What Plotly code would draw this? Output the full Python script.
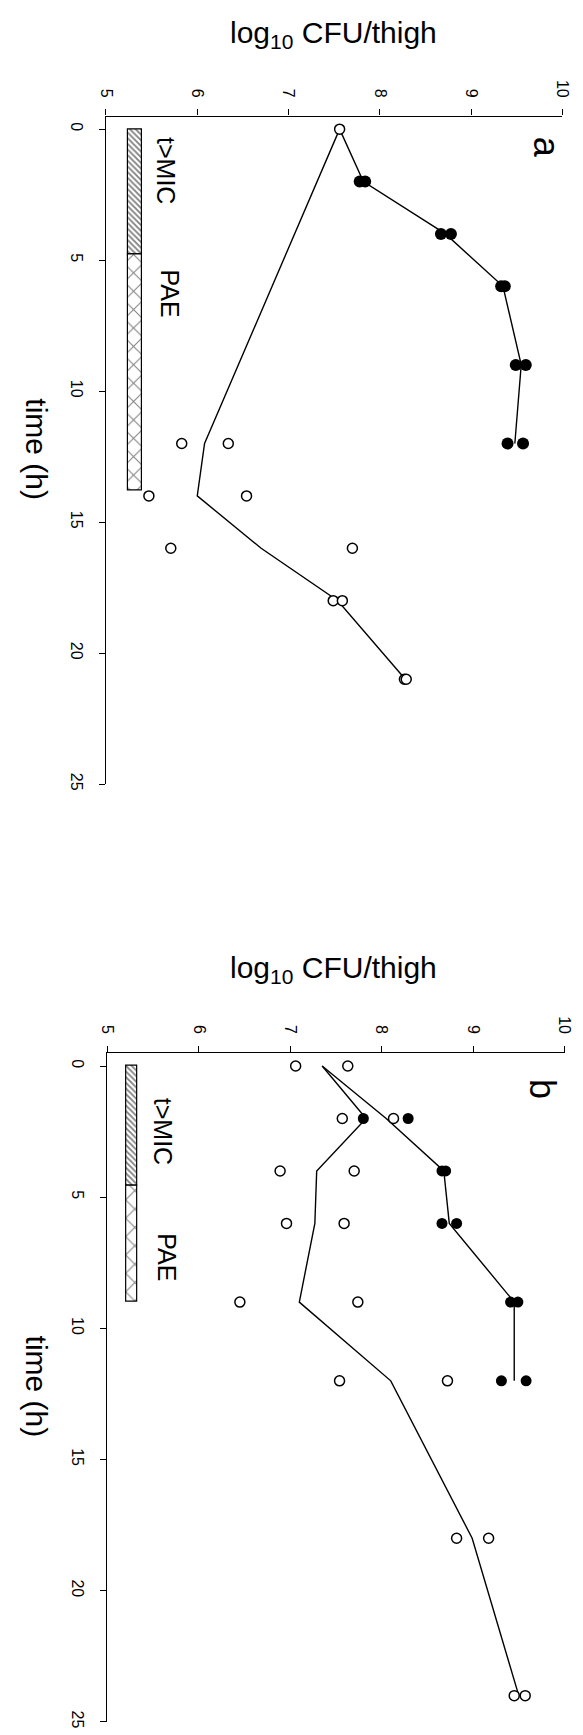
import plotly.graph_objects as go

W, H = 583, 1735
FONT = "Liberation Sans, Arial, sans-serif"

# ---------------- data: panel a ----------------
a_fill_t = [2, 2, 4, 4, 6, 6, 9, 9, 12, 12]
a_fill_v = [7.78, 7.84, 8.67, 8.78, 9.33, 9.37, 9.49, 9.60, 9.40, 9.57]
a_fill_line_t = [0, 2, 4, 6, 9, 12]
a_fill_line_v = [7.56, 7.82, 8.72, 9.35, 9.55, 9.48]
a_open_t = [0, 12, 12, 14, 14, 16, 16, 18, 18, 21, 21]
a_open_v = [7.56, 5.83, 6.34, 5.47, 6.54, 5.71, 7.70, 7.49, 7.59, 8.27, 8.29]
a_open_line_t = [0, 12, 14, 16, 18, 21]
a_open_line_v = [7.56, 6.08, 6.00, 6.70, 7.54, 8.28]
a_tmic = [0, 4.8]      # start, end (h)
a_pae = [4.8, 13.8]

# ---------------- data: panel b ----------------
b_fill_t = [2, 2, 4, 4, 6, 6, 9, 9, 12, 12]
b_fill_v = [7.80, 8.29, 8.66, 8.70, 8.66, 8.82, 9.41, 9.49, 9.31, 9.58]
b_fill_line_t = [0, 2, 4, 6, 9, 12]
b_fill_line_v = [7.35, 8.05, 8.68, 8.74, 9.45, 9.45]
b_open_t = [0, 0, 2, 2, 4, 4, 6, 6, 9, 9, 12, 12, 18, 18, 24, 24]
b_open_v = [7.06, 7.63, 7.57, 8.13, 6.89, 7.70, 6.96, 7.59, 6.45, 7.74,
            7.54, 8.72, 8.82, 9.17, 9.45, 9.57]
b_open_line_t = [0, 2, 4, 6, 9, 12, 18, 24]
b_open_line_v = [7.35, 7.83, 7.29, 7.27, 7.10, 8.10, 8.99, 9.50]
b_tmic = [0, 4.55]
b_pae = [4.55, 9.0]

cfu_ticks = [5, 6, 7, 8, 9, 10]
time_ticks = [0, 5, 10, 15, 20, 25]
panel_labels = ["a", "b"]

fig = go.Figure()


def add_panel(xa, ya, fill_t, fill_v, fl_t, fl_v, open_t, open_v, ol_t, ol_v,
              tmic, pae, bar_x, bar_w, fill_size):
    # lines
    for lt, lv in ((fl_t, fl_v), (ol_t, ol_v)):
        fig.add_trace(go.Scatter(x=lv, y=lt, mode="lines", xaxis=xa, yaxis=ya,
                                 line=dict(color="black", width=1.4),
                                 showlegend=False, hoverinfo="skip"))
    # bars (t>MIC hatched, PAE cross-hatched)
    fig.add_trace(go.Bar(x=[bar_x], y=[tmic[1] - tmic[0]], base=[tmic[0]],
                         width=[bar_w], xaxis=xa, yaxis=ya, showlegend=False,
                         marker=dict(color="black",
                                     line=dict(color="black", width=1.2),
                                     pattern=dict(shape="\\", fgcolor="black",
                                                  bgcolor="white", size=4,
                                                  solidity=0.45))))
    fig.add_trace(go.Bar(x=[bar_x], y=[pae[1] - pae[0]], base=[pae[0]],
                         width=[bar_w], xaxis=xa, yaxis=ya, showlegend=False,
                         marker=dict(color="black",
                                     line=dict(color="black", width=1.2),
                                     pattern=dict(shape="x", fgcolor="black",
                                                  bgcolor="white", size=13,
                                                  solidity=0.15))))
    # open markers
    fig.add_trace(go.Scatter(x=open_v, y=open_t, mode="markers", xaxis=xa,
                             yaxis=ya, showlegend=False,
                             marker=dict(symbol="circle", size=10, color="white",
                                         line=dict(color="black", width=1.5))))
    # filled markers
    fig.add_trace(go.Scatter(x=fill_v, y=fill_t, mode="markers", xaxis=xa,
                             yaxis=ya, showlegend=False,
                             marker=dict(symbol="circle", size=fill_size,
                                         color="black",
                                         line=dict(color="black", width=0))))


add_panel("x", "y", a_fill_t, a_fill_v, a_fill_line_t, a_fill_line_v,
          a_open_t, a_open_v, a_open_line_t, a_open_line_v,
          a_tmic, a_pae, 5.317, 0.16, 12)
add_panel("x2", "y2", b_fill_t, b_fill_v, b_fill_line_t, b_fill_line_v,
          b_open_t, b_open_v, b_open_line_t, b_open_line_v,
          b_tmic, b_pae, 5.272, 0.12, 11)


def xax(domain, anchor):
    return dict(domain=domain, range=[5, 10], side="top", anchor=anchor,
                tickmode="array", tickvals=cfu_ticks, tickangle=90,
                ticks="outside", ticklen=6, tickwidth=1.2, tickcolor="black",
                showline=True, linecolor="black", linewidth=1.4,
                showgrid=False, zeroline=False, ticklabelstandoff=6,
                tickfont=dict(family=FONT, size=16, color="black"))


def yax(domain, rng, anchor):
    return dict(domain=domain, range=rng, anchor=anchor, side="left",
                tickmode="array", tickvals=time_ticks, tickangle=90,
                ticks="outside", ticklen=6, tickwidth=1.2, tickcolor="black",
                showline=True, linecolor="black", linewidth=1.4,
                showgrid=False, zeroline=False, ticklabelstandoff=9,
                tickfont=dict(family=FONT, size=16, color="black"))


def px(xp):
    return xp / W


def py(yp):
    return 1 - yp / H


annotations = []
for title_y, time_y in ((27, 443), (965, 1384)):
    annotations.append(dict(text="log<sub>10</sub> CFU/thigh", xref="paper",
                            yref="paper", x=px(327), y=py(title_y),
                            xanchor="center", yanchor="middle", showarrow=False,
                            font=dict(family=FONT, size=30, color="black")))
    annotations.append(dict(text="time (h)", xref="paper", yref="paper",
                            x=px(21.5), y=py(time_y), textangle=90,
                            xanchor="center", yanchor="middle", showarrow=False,
                            font=dict(family=FONT, size=30, color="black")))

for xa, ya, lab, lx, lt, mx, mt, pxv, pt in (
        ("x", "y", panel_labels[0], 9.83, 0.70, 5.66, 1.57, 5.70, 6.27),
        ("x2", "y2", panel_labels[1], 9.76, 0.86, 5.61, 2.47, 5.65, 7.28)):
    annotations.append(dict(text=lab, xref=xa, yref=ya, x=lx, y=lt,
                            textangle=90, showarrow=False, xanchor="center",
                            yanchor="middle",
                            font=dict(family=FONT, size=36, color="black")))
    annotations.append(dict(text="t&gt;MIC", xref=xa, yref=ya, x=mx, y=mt,
                            textangle=90, showarrow=False, xanchor="center",
                            yanchor="middle",
                            font=dict(family=FONT, size=25, color="black")))
    annotations.append(dict(text="PAE", xref=xa, yref=ya, x=pxv, y=pt,
                            textangle=90, showarrow=False, xanchor="center",
                            yanchor="middle",
                            font=dict(family=FONT, size=25, color="black")))

fig.update_layout(
    width=W, height=H, margin=dict(l=0, r=0, t=0, b=0),
    paper_bgcolor="white", plot_bgcolor="white", barmode="overlay",
    bargap=0, showlegend=False,
    xaxis=xax([92.7 / W, 562.7 / W], "y"),
    yaxis=yax([1 - 779.2 / H, 1 - 109 / H], [25, -0.48], "x"),
    xaxis2=xax([94.0 / W, 565.0 / W], "y2"),
    yaxis2=yax([1 - 1720.8 / H, 1 - 1049 / H], [25, -0.505], "x2"),
    annotations=annotations,
)

fig.write_html("out.html")
